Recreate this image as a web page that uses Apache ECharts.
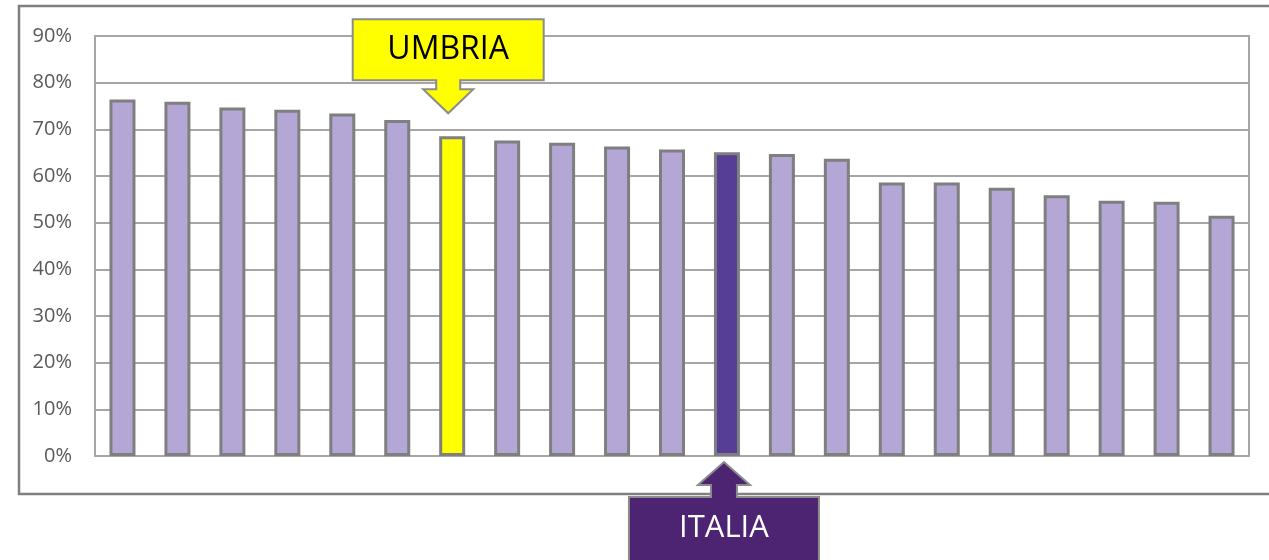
<!DOCTYPE html>
<html>
<head>
<meta charset="utf-8">
<script src="https://cdn.jsdelivr.net/npm/echarts@6/dist/echarts.min.js"></script>
<style>html,body{margin:0;padding:0;background:#fff;}#c{width:1269px;height:560px;}</style>
</head>
<body>
<div id="c"></div>
<script>
const categories = ['R1','R2','R3','R4','R5','R6','UMBRIA','R8','R9','R10','R11','ITALIA','R13','R14','R15','R16','R17','R18','R19','R20','R21'];
const values = [76.4,75.9,74.7,74.2,73.4,72.0,68.5,67.6,67.1,66.3,65.7,65.1,64.7,63.7,58.6,58.6,57.5,55.9,54.7,54.5,51.5];
const yTicks = [0,10,20,30,40,50,60,70,80,90];
const umbriaLabel = 'UMBRIA';
const italiaLabel = 'ITALIA';

const baseColor = '#B4A7D6';
const umbriaColor = '#FFFF00';
const italiaColor = '#563D96';

const chart = echarts.init(document.getElementById('c'), null, {renderer:'canvas'});
const data = values.map((v,i)=>{
  let c = baseColor;
  if (categories[i]===umbriaLabel) c = umbriaColor;
  if (categories[i]===italiaLabel) c = italiaColor;
  return {value:v, itemStyle:{color:c}};
});
chart.setOption({
  animation:false,
  backgroundColor:'#fff',
  grid:{left:95,right:20,top:36,bottom:104,show:true,borderColor:'#A6A6A6',borderWidth:2},
  xAxis:{type:'category',data:categories,axisLabel:{show:false},axisTick:{show:false},
    axisLine:{show:true,lineStyle:{color:'#A6A6A6',width:2}}},
  yAxis:{type:'value',min:yTicks[0],max:yTicks[yTicks.length-1],interval:10,
    axisLabel:{formatter:v=>v+'%',color:'#595959',fontSize:20,fontFamily:'Open Sans, Liberation Sans, sans-serif',margin:23},
    axisLine:{show:false},axisTick:{show:false},
    splitLine:{lineStyle:{color:'#A6A6A6',width:2}}},
  series:[{type:'bar',data:data,barWidth:26,itemStyle:{borderColor:'#7F7F7F',borderWidth:3}}]
});

function drawAnnotations(){
  const iU = categories.indexOf(umbriaLabel);
  const iI = categories.indexOf(italiaLabel);
  const pU = chart.convertToPixel({seriesIndex:0},[iU, values[iU]]);
  const pI = chart.convertToPixel({seriesIndex:0},[iI, 0]);
  const ux = pU[0]-4, uTip = pU[1]-23;
  const ix = pI[0]-3, iTip = pI[1]+6;
  const g = [];
  // outer border
  g.push({type:'rect',shape:{x:19,y:6,width:1280,height:488},style:{fill:null,stroke:'#7F7F7F',lineWidth:2.5},z:1});
  // UMBRIA callout (box + down arrow)
  g.push({type:'polygon',z:100,shape:{points:[
    [ux-95.5,uTip-94],[ux+95.5,uTip-94],[ux+95.5,uTip-33],[ux+12,uTip-33],[ux+12,uTip-24],[ux+25,uTip-24],
    [ux,uTip],[ux-25,uTip-24],[ux-12,uTip-24],[ux-12,uTip-33],[ux-95.5,uTip-33]]},
    style:{fill:umbriaColor,stroke:'#8C8C8C',lineWidth:2}});
  g.push({type:'text',z:101,x:ux,y:uTip-63,style:{text:umbriaLabel,fill:'#000',font:'32px "Open Sans", "Liberation Sans", sans-serif',align:'center',verticalAlign:'middle'}});
  // ITALIA callout (up arrow + box)
  g.push({type:'polygon',z:100,shape:{points:[
    [ix,iTip],[ix+26,iTip+23],[ix+13,iTip+23],[ix+13,iTip+35],[ix+95,iTip+35],[ix+95,iTip+110],
    [ix-95,iTip+110],[ix-95,iTip+35],[ix-13,iTip+35],[ix-13,iTip+23],[ix-26,iTip+23]]},
    style:{fill:'#4D2471',stroke:'#8C8C8C',lineWidth:2}});
  g.push({type:'text',z:101,x:ix,y:iTip+66,style:{text:italiaLabel,fill:'#fff',font:'31px "Open Sans", "Liberation Sans", sans-serif',align:'center',verticalAlign:'middle'}});
  chart.setOption({graphic:g});
}
drawAnnotations();
</script>
</body>
</html>
